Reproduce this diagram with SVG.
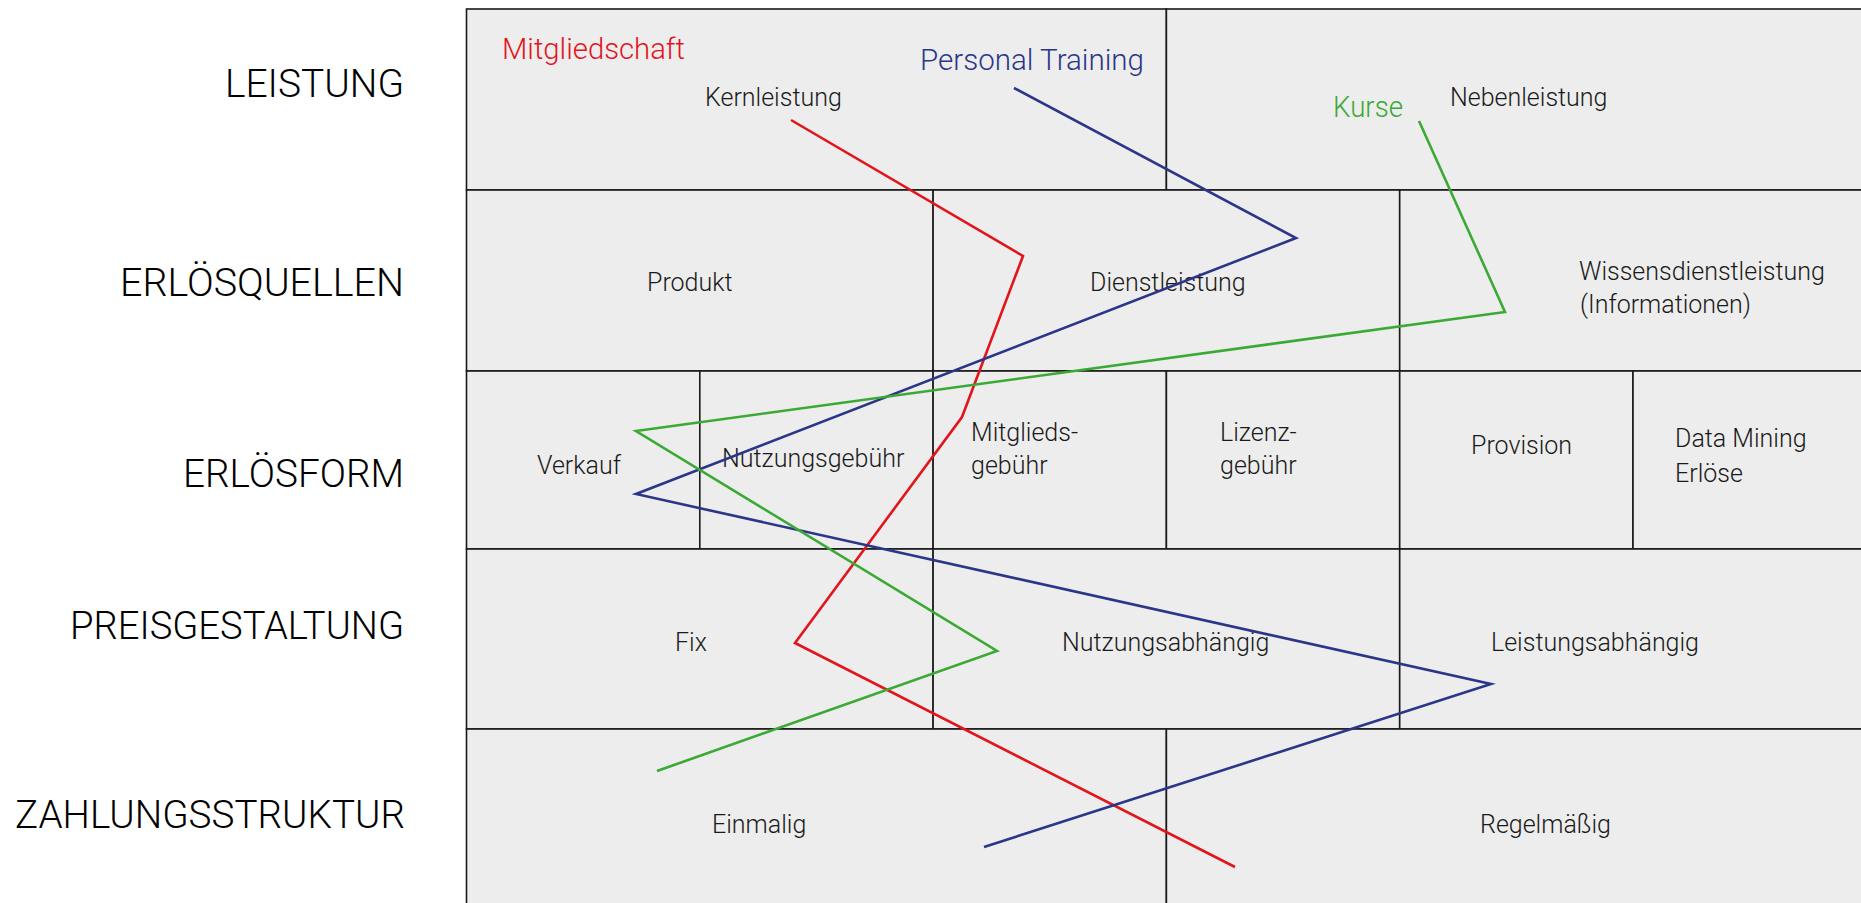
<svg xmlns="http://www.w3.org/2000/svg" width="1861" height="903" viewBox="0 0 1861 903">
<style>
.cell{fill:#ededed;stroke:#1a1a1a;stroke-width:1.6}
.t{font-family:Roboto,"Liberation Sans",sans-serif;font-weight:300;font-size:25px;fill:#1a1a1a}
.row{font-family:Roboto,"Liberation Sans",sans-serif;font-weight:300;font-size:39px;fill:#000;text-anchor:end}
.lbl{font-family:Roboto,"Liberation Sans",sans-serif;font-weight:300;font-size:29px}
.ln{fill:none;stroke-width:2.6;stroke-linejoin:miter}
</style>
<rect width="1861" height="903" fill="#fff"/>
<g id="row-labels">
<g id="lbl-leistung"><text class="row" x="404" y="97" textLength="179" lengthAdjust="spacingAndGlyphs">LEISTUNG</text></g>
<g id="lbl-erloesquellen"><text class="row" x="404" y="296" textLength="284" lengthAdjust="spacingAndGlyphs">ERLÖSQUELLEN</text></g>
<g id="lbl-erloesform"><text class="row" x="404" y="487" textLength="221" lengthAdjust="spacingAndGlyphs">ERLÖSFORM</text></g>
<g id="lbl-preisgestaltung"><text class="row" x="404" y="639" textLength="334" lengthAdjust="spacingAndGlyphs">PREISGESTALTUNG</text></g>
<g id="lbl-zahlungsstruktur"><text class="row" x="405" y="828" textLength="390" lengthAdjust="spacingAndGlyphs">ZAHLUNGSSTRUKTUR</text></g>
</g>
<g id="cells">
<g id="kernleistung"><rect class="cell" x="466.5" y="9" width="699.9" height="181"/><text class="t" x="705" y="106">Kernleistung</text></g>
<g id="nebenleistung"><rect class="cell" x="1166.4" y="9" width="699.9" height="181"/><text class="t" x="1450" y="106">Nebenleistung</text></g>
<g id="produkt"><rect class="cell" x="466.5" y="190" width="466.6" height="181"/><text class="t" x="647" y="291">Produkt</text></g>
<g id="dienstleistung"><rect class="cell" x="933.1" y="190" width="466.6" height="181"/><text class="t" x="1090" y="291">Dienstleistung</text></g>
<g id="wissensdienstleistung"><rect class="cell" x="1399.7" y="190" width="466.6" height="181"/><text class="t" x="1579" y="280">Wissensdienstleistung</text><text class="t" x="1580" y="313">(Informationen)</text></g>
<g id="verkauf"><rect class="cell" x="466.5" y="371" width="233.3" height="178"/><text class="t" x="537" y="474">Verkauf</text></g>
<g id="nutzungsgebuehr"><rect class="cell" x="699.8" y="371" width="233.3" height="178"/><text class="t" x="722" y="467">Nutzungsgebühr</text></g>
<g id="mitgliedsgebuehr"><rect class="cell" x="933.1" y="371" width="233.3" height="178"/><text class="t" x="971" y="441">Mitglieds-</text><text class="t" x="971" y="474">gebühr</text></g>
<g id="lizenzgebuehr"><rect class="cell" x="1166.4" y="371" width="233.3" height="178"/><text class="t" x="1220" y="441">Lizenz-</text><text class="t" x="1220" y="474">gebühr</text></g>
<g id="provision"><rect class="cell" x="1399.7" y="371" width="233.3" height="178"/><text class="t" x="1471" y="454">Provision</text></g>
<g id="datamining"><rect class="cell" x="1633" y="371" width="233.3" height="178"/><text class="t" x="1675" y="447">Data Mining</text><text class="t" x="1675" y="482">Erlöse</text></g>
<g id="fix"><rect class="cell" x="466.5" y="549" width="466.6" height="180"/><text class="t" x="675" y="651">Fix</text></g>
<g id="nutzungsabhaengig"><rect class="cell" x="933.1" y="549" width="466.6" height="180"/><text class="t" x="1062" y="651">Nutzungsabhängig</text></g>
<g id="leistungsabhaengig"><rect class="cell" x="1399.7" y="549" width="466.6" height="180"/><text class="t" x="1491" y="651">Leistungsabhängig</text></g>
<g id="einmalig"><rect class="cell" x="466.5" y="729" width="699.9" height="181"/><text class="t" x="712" y="833">Einmalig</text></g>
<g id="regelmaessig"><rect class="cell" x="1166.4" y="729" width="699.9" height="181"/><text class="t" x="1480" y="833">Regelmäßig</text></g>
</g>
<g id="connectors">
<polyline id="line-mitgliedschaft" class="ln" stroke="#e2141c" points="791,120 1023,256 962,417 795,643 1235,867"/>
<polyline id="line-personal-training" class="ln" stroke="#2b3689" points="1014,88 1296,238 636,494 1491,684 984,847"/>
<polyline id="line-kurse" class="ln" stroke="#3aaa35" points="1419,121 1505,312 636,431 997,651 657,771"/>
</g>
<g id="connector-labels">
<text class="lbl" x="502" y="59" fill="#e2141c" textLength="183" lengthAdjust="spacingAndGlyphs">Mitgliedschaft</text>
<text class="lbl" x="920" y="70" fill="#2b3689" textLength="224" lengthAdjust="spacingAndGlyphs">Personal Training</text>
<text class="lbl" x="1333" y="117" fill="#3aaa35" textLength="70" lengthAdjust="spacingAndGlyphs">Kurse</text>
</g>
</svg>
